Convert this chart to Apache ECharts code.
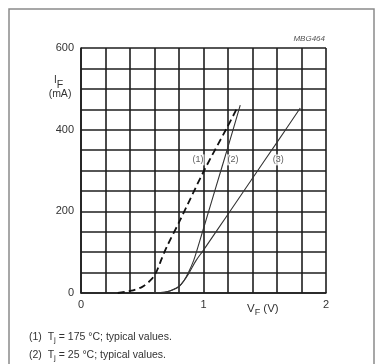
<!DOCTYPE html>
<html><head><meta charset="utf-8">
<script src="https://cdn.jsdelivr.net/npm/echarts@6/dist/echarts.min.js"></script>
<style>html,body{margin:0;padding:0;background:#fff}#c{width:378px;height:364px}</style>
</head><body><div id="c"></div>
<script>
// data
const v1 = [0.30, 0.40, 0.50, 0.58, 0.62, 0.66, 0.70, 0.81, 1.00, 1.19, 1.28];
const i1 = [0, 5, 15, 35, 55, 85, 113, 179, 297, 404, 456];
const v2 = [0.59, 0.65, 0.70, 0.75, 0.80, 0.84, 0.88, 0.92, 0.95, 1.00, 1.10, 1.20, 1.30];
const i2 = [0, 1, 3, 8, 16, 30, 52, 80, 108, 158, 258, 358, 460];
const v3 = [0.59, 0.65, 0.70, 0.75, 0.80, 0.84, 0.88, 0.94, 1.00, 1.20, 1.40, 1.60, 1.79];
const i3 = [0, 1, 3, 8, 16, 30, 48, 80, 105, 193, 281, 369, 453];
const curveLabels = ['(1)', '(2)', '(3)'];
const labelV = [0.955, 1.24, 1.61];
const labelI = [326, 326, 326];
const xTickLabels = [0, 1, 2];
const yTickLabels = [0, 200, 400, 600];

const F = '"Liberation Sans", Arial, sans-serif';
const pair = (v, i) => v.map((x, k) => [x, i[k]]);
const chart = echarts.init(document.getElementById('c'), null, {renderer: 'canvas'});
const gridLine = {show: true, lineStyle: {color: '#1e1e1e', width: 1.6}};
chart.setOption({
  animation: false,
  backgroundColor: '#fff',
  grid: {left: 81, top: 48, width: 245, height: 245, containLabel: false},
  xAxis: {
    type: 'value', min: 0, max: 2, interval: 0.2,
    axisLine: {show: true, lineStyle: {color: '#1e1e1e', width: 1.6}},
    axisTick: {show: false},
    splitLine: gridLine,
    axisLabel: {color: '#333', fontFamily: F, fontSize: 11, margin: 6,
      formatter: v => { const r = Math.round(v); return (Math.abs(v - r) < 1e-6 && xTickLabels.includes(r)) ? String(r) : ''; }}
  },
  yAxis: {
    type: 'value', min: 0, max: 600, interval: 50,
    axisLine: {show: true, lineStyle: {color: '#1e1e1e', width: 1.6}},
    axisTick: {show: false},
    splitLine: gridLine,
    axisLabel: {color: '#333', fontFamily: F, fontSize: 11, margin: 7,
      formatter: v => yTickLabels.includes(v) ? String(v) : ''}
  },
  series: [
    {type: 'line', data: pair(v1, i1), smooth: 0.3, symbol: 'none',
      lineStyle: {color: '#111', width: 1.8, type: [7, 4]}},
    {type: 'line', data: pair(v2, i2), smooth: 0.3, symbol: 'none',
      lineStyle: {color: '#333', width: 1.1}},
    {type: 'line', data: pair(v3, i3), smooth: 0.3, symbol: 'none',
      lineStyle: {color: '#333', width: 1.1}},
    {type: 'scatter', symbolSize: 0, z: 5,
      data: labelV.map((x, k) => ({value: [x, labelI[k]], name: curveLabels[k]})),
      label: {show: true, position: 'inside', formatter: p => p.name, color: '#333',
        fontFamily: F, fontSize: 9, backgroundColor: '#fff', padding: [1, 1]}}
  ],
  graphic: [
    {type: 'rect', shape: {x: 9, y: 9, width: 365, height: 380}, style: {fill: 'none', stroke: '#8a8a8a', lineWidth: 1.5}, silent: true},
    {type: 'text', x: 325, y: 35, style: {text: 'MBG464', fill: '#555', font: 'italic 8px ' + F, textAlign: 'right'}},
    {type: 'text', x: 54, y: 70, style: {text: '{a|I}{s|F}',
      rich: {a: {fontFamily: F, fontSize: 10, fill: '#333'}, s: {fontFamily: F, fontSize: 10.5, fill: '#333', padding: [10, 0, 0, 0]}}}},
    {type: 'text', x: 60, y: 89, style: {text: '(mA)', fill: '#333', font: '10.5px ' + F, textAlign: 'center'}},
    {type: 'text', x: 247, y: 300, style: {text: '{a|V}{s|F}{a| (V)}',
      rich: {a: {fontFamily: F, fontSize: 11.5, fill: '#333'}, s: {fontFamily: F, fontSize: 9, fill: '#333', padding: [8, 0, 0, 0]}}}},
    {type: 'text', x: 29, y: 331, style: {text: '{a|(1)  T}{s|j}{a| = 175 °C; typical values.}',
      rich: {a: {fontFamily: F, fontSize: 10.5, fill: '#333'}, s: {fontFamily: F, fontSize: 8, fill: '#333', padding: [5, 0, 0, 0]}}}},
    {type: 'text', x: 29, y: 349, style: {text: '{a|(2)  T}{s|j}{a| = 25 °C; typical values.}',
      rich: {a: {fontFamily: F, fontSize: 10.5, fill: '#333'}, s: {fontFamily: F, fontSize: 8, fill: '#333', padding: [5, 0, 0, 0]}}}}
  ]
});
</script></body></html>
